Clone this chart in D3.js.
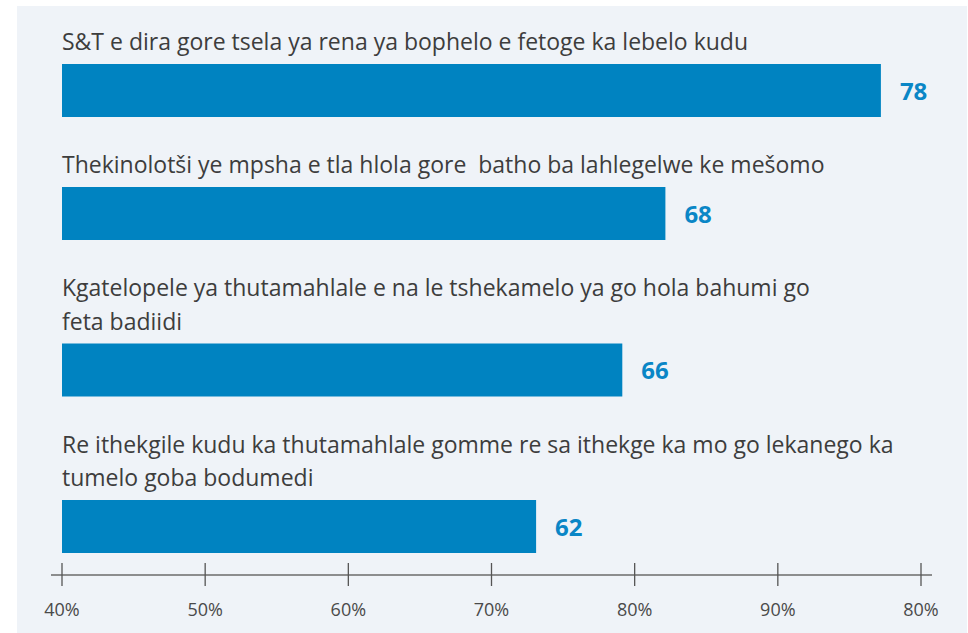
<!DOCTYPE html>
<html>
<head>
<meta charset="utf-8">
<script src="https://cdn.jsdelivr.net/npm/d3@7"></script>
<style>
  body { margin: 0; background: #fff; }
  svg text { white-space: pre; }
</style>
</head>
<body>
<div id="chart"></div>
<script>
// label lines for each bar (original wrapping kept)
var categories = [
    ["S&T e dira gore tsela ya rena ya bophelo e fetoge ka lebelo kudu"],
    ["Thekinolotši ye mpsha e tla hlola gore  batho ba lahlegelwe ke mešomo"],
    ["Kgatelopele ya thutamahlale e na le tshekamelo ya go hola bahumi go", "feta badiidi"],
    ["Re ithekgile kudu ka thutamahlale gomme re sa ithekge ka mo go lekanego ka", "tumelo goba bodumedi"]
];
var values = [78, 68, 66, 62];
var tickLabels = ["40%", "50%", "60%", "70%", "80%", "90%", "80%"];

var width = 968, height = 633;
var left = 62;
var barH = 53, lineH = 33.5;
var font = "'Myriad Pro', 'Open Sans', sans-serif";

var svg = d3.select("#chart").append("svg")
    .attr("width", width)
    .attr("height", height);

svg.append("rect")
    .attr("x", 17).attr("y", 6)
    .attr("width", 950).attr("height", 627)
    .attr("fill", "#eff3f8");

var x = d3.scaleLinear().domain([40, 80]).range([left, 924]);
var xt = d3.scalePoint().domain(d3.range(tickLabels.length)).range([left, 921]);

// stack label lines + bar for each row
var rows = [];
var y = 50;
categories.forEach(function(lines, i) {
    var r = { lines: lines, value: values[i], base: y };
    r.barY = y + (lines.length - 1) * lineH + 14;
    rows.push(r);
    y = r.barY + barH + 56;
});

var g = svg.selectAll("g.row").data(rows).enter().append("g").attr("class", "row");

g.each(function(d) {
    d3.select(this).selectAll("text.lab").data(d.lines).enter().append("text")
        .attr("class", "lab")
        .attr("x", left)
        .attr("y", function(l, j) { return d.base + j * lineH; })
        .attr("font-family", font)
        .attr("font-size", 23)
        .attr("fill", "#3d3d3d")
        .text(function(l) { return l; });
});

g.append("rect")
    .attr("x", x(40))
    .attr("y", function(d) { return d.barY; })
    .attr("width", function(d) { return x(d.value) - x(40); })
    .attr("height", barH)
    .attr("fill", "#0083c1");

g.append("text")
    .attr("x", function(d) { return x(d.value) + 19; })
    .attr("y", function(d) { return d.barY + barH / 2 + 9; })
    .attr("font-family", font)
    .attr("font-weight", "bold")
    .attr("font-size", 24)
    .attr("fill", "#0a86c6")
    .text(function(d) { return d.value; });

// axis
var axisY = 575;
var ax = svg.append("g").attr("class", "axis");
ax.append("line")
    .attr("x1", left - 11).attr("x2", 932)
    .attr("y1", axisY).attr("y2", axisY)
    .attr("stroke", "#6b6b6b").attr("stroke-width", 1.5);

ax.selectAll("line.tick").data(d3.range(tickLabels.length)).enter().append("line")
    .attr("class", "tick")
    .attr("x1", function(i) { return xt(i); })
    .attr("x2", function(i) { return xt(i); })
    .attr("y1", axisY - 12).attr("y2", axisY + 11)
    .attr("stroke", "#555").attr("stroke-width", 1.3);

ax.selectAll("text").data(d3.range(tickLabels.length)).enter().append("text")
    .attr("x", function(i) { return xt(i); })
    .attr("y", 616)
    .attr("text-anchor", "middle")
    .attr("font-family", font)
    .attr("font-size", 18)
    .attr("fill", "#4a4a4a")
    .text(function(i) { return tickLabels[i]; });
</script>
</body>
</html>
